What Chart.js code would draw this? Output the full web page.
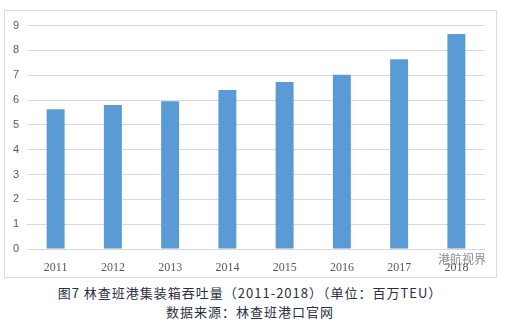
<!DOCTYPE html>
<html>
<head>
<meta charset="utf-8">
<script src="https://cdn.jsdelivr.net/npm/chart.js@4/dist/chart.umd.min.js"></script>
<style>
  body { margin: 0; background: #fff; width: 511px; height: 323px; position: relative; overflow: hidden; }
  #box { position: absolute; left: 4px; top: 10px; width: 493px; height: 268px; border: 1px solid #dcdcdc; box-sizing: border-box; }
  #box canvas { display: block; }
  .cap { position: absolute; left: 0; width: 500px; text-align: center; font-family: "Noto Sans CJK SC", sans-serif; font-size: 13px; color: #2a3042; letter-spacing: 1px; }
  #mark { position: absolute; left: 438px; top: 250px; font-family: "Noto Sans CJK SC", sans-serif; font-size: 12px; color: rgba(110,110,110,0.8); }
</style>
</head>
<body>
<div id="box"><canvas id="chart"></canvas></div>
<div id="mark">港航视界</div>
<div class="cap" style="top:283px">图7 林查班港集装箱吞吐量（2011-2018）（单位：百万TEU）</div>
<div class="cap" style="top:302px">数据来源：林查班港口官网</div>
<script>
const years = ["2011", "2012", "2013", "2014", "2015", "2016", "2017", "2018"];
const throughput = [5.63, 5.8, 5.95, 6.41, 6.73, 7.02, 7.64, 8.66];
const yMin = 0;
const yMax = 9;

const canvas = document.getElementById("chart");
canvas.width = 491;
canvas.height = 266;

new Chart(canvas.getContext("2d"), {
    type: "bar",
    data: {
        labels: years,
        datasets: [{
            label: "吞吐量",
            data: throughput,
            backgroundColor: "#5b9bd5",
            borderWidth: 0,
            categoryPercentage: 1,
            barPercentage: 0.314
        }]
    },
    options: {
        responsive: false,
        animation: false,
        layout: { padding: { top: 11, right: 11, left: 0, bottom: 0 } },
        plugins: { legend: { display: false }, tooltip: { enabled: false } },
        scales: {
            x: {
                grid: { display: false },
                border: { display: false },
                ticks: { color: "#595959", font: { family: "Liberation Serif", size: 12 }, padding: 4 },
                afterFit: (s) => { s.height = 28; }
            },
            y: {
                min: yMin,
                max: yMax,
                grid: { color: "#d9d9d9", drawTicks: false },
                border: { display: false },
                ticks: { stepSize: 1, color: "#595959", font: { family: "Liberation Sans", size: 11 }, padding: 8 },
                afterFit: (s) => { s.width = 22; }
            }
        }
    }
});
</script>
</body>
</html>
